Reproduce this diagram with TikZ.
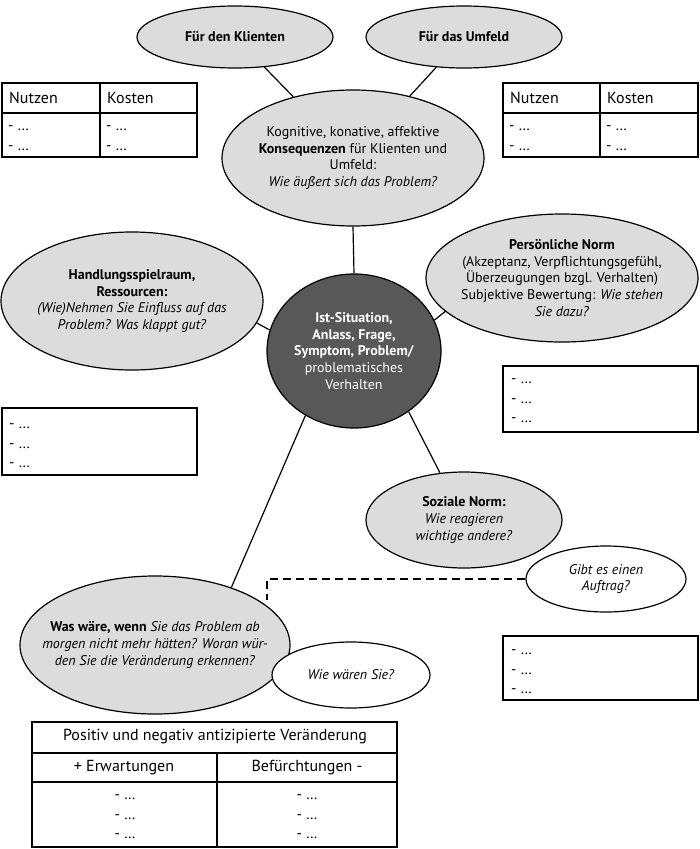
\documentclass[tikz,border=0pt]{standalone}
\usepackage{fontspec}
\setmainfont{PT Sans}
\usetikzlibrary{shapes.geometric}
\definecolor{bubblegray}{HTML}{DCDCDC}
\definecolor{coregray}{HTML}{585858}
\tikzset{
  bubble/.style={ellipse, draw, line width=1.2pt, fill=bubblegray, align=center, inner sep=-20pt, font=\fontsize{14}{16.6}\selectfont},
  core/.style={bubble, fill=coregray, text=white},
  note/.style={bubble, fill=white},
  tab/.style={line width=1.8pt},
  tabtext/.style={inner sep=0pt, font=\fontsize{16}{20}\selectfont},
  dots/.style={inner sep=0pt, align=left, font=\fontsize{15}{19.5}\selectfont},
  link/.style={line width=1.2pt},
}
\begin{document}
\begin{tikzpicture}[x=1pt, y=-1pt]
    \useasboundingbox (0,0) rectangle (700,849);
    % tables at the top
    \draw[tab] (2,83) rectangle (197,157);
    \draw[tab] (2,113) -- (197,113);
    \draw[tab] (100,83) -- (100,157);
    \node[tabtext, anchor=west] (lnutzen) at (9,98) {Nutzen};
    \node[tabtext, anchor=west] (lkosten) at (107,98) {Kosten};
    \node[dots, anchor=west, font=\fontsize{15}{20}\selectfont] (lnutzendots) at (8,138) {- …\\- …};
    \node[dots, anchor=west, font=\fontsize{15}{20}\selectfont] (lkostendots) at (106,138) {- …\\- …};
    \draw[tab] (503,83) rectangle (698,157);
    \draw[tab] (503,113) -- (698,113);
    \draw[tab] (600,83) -- (600,157);
    \node[tabtext, anchor=west] (rnutzen) at (510,98) {Nutzen};
    \node[tabtext, anchor=west] (rkosten) at (607,98) {Kosten};
    \node[dots, anchor=west, font=\fontsize{15}{20}\selectfont] (rnutzendots) at (509,138) {- …\\- …};
    \node[dots, anchor=west, font=\fontsize{15}{20}\selectfont] (rkostendots) at (606,138) {- …\\- …};
    % note boxes
    \draw[tab] (2,408) rectangle (197,475);
    \node[dots, anchor=west] (leftdots) at (9,446) {- …\\- …\\- …};
    \draw[tab] (503,366) rectangle (698,432);
    \node[dots, anchor=west] (normdots) at (511,401) {- …\\- …\\- …};
    \draw[tab] (503,636) rectangle (698,700);
    \node[dots, anchor=west] (auftragdots) at (511,672) {- …\\- …\\- …};
    % bubbles
    \node[bubble, minimum width=196, minimum height=62] (klient) at (235,37) {\textbf{Für den Klienten}};
    \node[bubble, minimum width=196, minimum height=62] (umfeld) at (464,37) {\textbf{Für das Umfeld}};
    \node[bubble, minimum width=262, minimum height=136] (kons) at (353,158) {Kognitive, konative, affektive\\\textbf{Konsequenzen} für Klienten und\\Umfeld:\\\textit{Wie äußert sich das Problem?}};
    \node[core, minimum width=174, minimum height=154] (core) at (354,351) {\textbf{Ist-Situation,}\\\textbf{Anlass, Frage,}\\\textbf{Symptom, Problem/}\\problematisches\\Verhalten};
    \node[bubble, minimum width=262, minimum height=138] (hand) at (132,301) {\textbf{Handlungsspielraum,}\\\textbf{Ressourcen:}\\\textit{(Wie)Nehmen Sie Einfluss auf das}\\\textit{Problem? Was klappt gut?}};
    \node[bubble, minimum width=272, minimum height=128] (pn) at (562,278) {\textbf{Persönliche Norm}\\(Akzeptanz, Verpflichtungsgefühl,\\Überzeugungen bzgl. Verhalten)\\Subjektive Bewertung: \textit{Wie stehen}\\\textit{Sie dazu?}};
    \node[bubble, minimum width=196, minimum height=96] (soz) at (464,520) {\textbf{Soziale Norm:}\\\textit{Wie reagieren}\\\textit{wichtige andere?}};
    \node[note, minimum width=160, minimum height=66] (auftrag) at (606,579) {\textit{Gibt es einen}\\\textit{Auftrag?}};
    \node[bubble, minimum width=270, minimum height=138] (waswaere) at (155,645) {\textbf{Was wäre, wenn} \textit{Sie das Problem ab}\\\textit{morgen nicht mehr hätten? Woran wür-}\\\textit{den Sie die Veränderung erkennen?}};
    \node[note, minimum width=158, minimum height=66] (wiewaeren) at (351,675) {\textit{Wie wären Sie?}};
    % connectors
    \draw[link] (klient) -- (kons);
    \draw[link] (umfeld) -- (kons);
    \draw[link] (kons.south) -- (core.north);
    \draw[link] (hand.350) -- (core.166);
    \draw[link] (core.21) -- (pn.196);
    \draw[link] (core.312) -- (soz.117);
    \draw[link] (core.233) -- (waswaere.37);
    \coordinate (dashend) at (267,600);
    \draw[line width=1.6pt, dash pattern=on 8pt off 5pt] (auftrag.west) -| (dashend);
    % table at the bottom
    \draw[tab] (32,722) rectangle (397,847);
    \draw[tab] (32,753) -- (397,753);
    \draw[tab] (32,782) -- (397,782);
    \draw[tab] (217,753) -- (217,847);
    \node[tabtext] (change) at (215,737) {Positiv und negativ antizipierte Veränderung};
    \node[tabtext] (hopes) at (124,768) {+ Erwartungen};
    \node[tabtext] (fears) at (307,768) {Befürchtungen -};
    \node[dots, align=center] (hopesdots) at (125,817) {- …\\- …\\- …};
    \node[dots, align=center] (fearsdots) at (307,817) {- …\\- …\\- …};
\end{tikzpicture}
\end{document}
